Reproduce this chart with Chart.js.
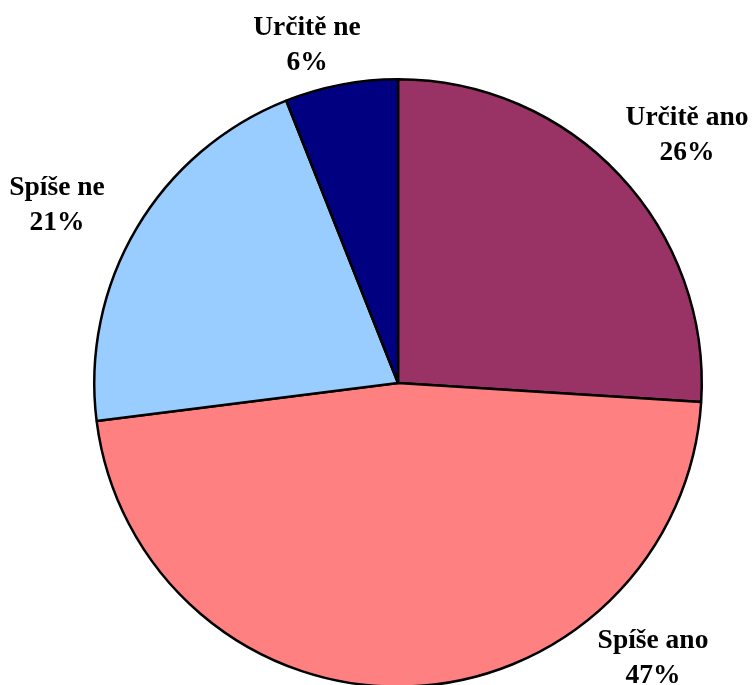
<!DOCTYPE html>
<html>
<head>
<meta charset="utf-8">
<script src="https://cdn.jsdelivr.net/npm/chart.js@4.4.0/dist/chart.umd.min.js"></script>
<style>
  html, body { margin: 0; padding: 0; background: #fff; overflow: hidden; }
  #wrap { width: 753px; height: 685px; overflow: hidden; }
</style>
</head>
<body>
<div id="wrap"><canvas id="pie" width="753" height="700"></canvas></div>
<script>
// Answer categories, clockwise from the top
const categories = ['Určitě ano', 'Spíše ano', 'Spíše ne', 'Určitě ne'];
const percents = [26, 47, 21, 6];
const sliceColors = ['#993366', '#FF8080', '#99CCFF', '#000080'];

// where each two-line label sits (centre x, first baseline)
const labelPos = [
    { x: 687, y: 125 },
    { x: 653, y: 648 },
    { x: 57, y: 195 },
    { x: 307, y: 35 }
];

const labelPlugin = {
    id: 'sliceLabels',
    afterDatasetsDraw(chart) {
        const ctx = chart.ctx;
        ctx.save();
        ctx.font = 'bold 27.5px "Liberation Serif", "Times New Roman", serif';
        ctx.fillStyle = '#000';
        ctx.textAlign = 'center';
        ctx.textBaseline = 'alphabetic';
        chart.data.labels.forEach((name, i) => {
            const p = labelPos[i];
            ctx.fillText(name, p.x, p.y);
            ctx.fillText(chart.data.datasets[0].data[i] + '%', p.x, p.y + 35);
        });
        ctx.restore();
    }
};

new Chart(document.getElementById('pie').getContext('2d'), {
    type: 'pie',
    data: {
        labels: categories,
        datasets: [{
            data: percents,
            backgroundColor: sliceColors,
            borderColor: '#000',
            borderWidth: 2.5
        }]
    },
    options: {
        responsive: false,
        animation: false,
        layout: { padding: { left: 93, right: 50, top: 78, bottom: 12 } },
        plugins: {
            legend: { display: false },
            tooltip: { enabled: false }
        }
    },
    plugins: [labelPlugin]
});
</script>
</body>
</html>
